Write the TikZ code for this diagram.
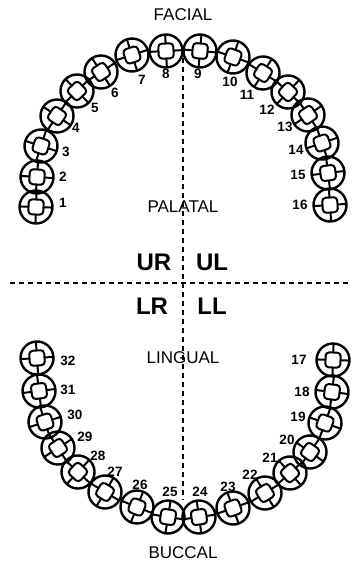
\documentclass[tikz,border=0pt]{standalone}
\usepackage{fontspec}
\setmainfont{Liberation Sans}
\usetikzlibrary{positioning}

\tikzset{tooth/.pic={
  \draw[line width=2.4pt] (0,0) circle (16.5);
  \draw[line width=2pt, rounded corners=3.5pt] (-7.5,-7.5) rectangle (7.5,7.5);
  \foreach \r in {0,90,180,270}
    \draw[line width=2pt, rotate=\r] (7.5,0) -- (16,0);
}}

\begin{document}
\begin{tikzpicture}[x=1pt,y=-1pt]
\useasboundingbox (0,0) rectangle (352,564);
\begin{scope}
\tikzstyle{side}=[font=\fontsize{17}{17}\selectfont, inner sep=0pt]
\tikzstyle{quad}=[font=\fontsize{24}{24}\selectfont\bfseries, inner sep=0pt]
\tikzstyle{num}=[font=\fontsize{13.5}{13.5}\selectfont\bfseries, inner sep=0pt]
\tikzstyle{midline}=[line width=1.2pt, dash pattern=on 5pt off 4pt]
% upper arch
\foreach \n/\x/\y/\a/\lx/\ly in {1/36/207/-2/63/203, 2/37/177/-4/63/177,
    3/41/146/-18/66/152, 4/57/116/56/76/128, 5/77/91/44/95/108,
    6/101/72/33/115/93, 7/132/55/18/142/80, 8/166/51/3/166/74,
    9/200/51/-5/198/74, 10/233/57/-19/230/82, 11/263/73/-32/247/95,
    12/288/92/-43/267/110, 13/308/115/34/285/127, 14/322/143/19/296/150,
    15/328/173/7/298/175, 16/330/205/4/300/205}
{
  \pic[rotate=\a] (t\n) at (\x,\y) {tooth};
  \node[num] (n\n) at (\lx,\ly) {\n};
}
% lower arch
\foreach \n/\x/\y/\a/\lx/\ly in {32/37/358/4/68/361, 31/39/391/7/68/390,
    30/45/422/18/75/415, 29/58/448/33/85/437, 28/78/472/-43/98/456,
    27/105/492/-31/115/472, 26/137/507/-22/140/485, 25/168/517/-9/170/492,
    24/199/517/8/200/492, 23/233/508/20/228/487, 22/265/493/32/250/475,
    21/290/473/42/270/458, 20/310/452/55/287/440, 19/325/423/70/298/417,
    18/332/392/83/302/392, 17/333/360/88/299/360}
{
  \pic[rotate=\a] (t\n) at (\x,\y) {tooth};
  \node[num] (n\n) at (\lx,\ly) {\n};
}
\node[side] (facial) at (183,15) {FACIAL};
\node[side] (palatal) at (183,207) {PALATAL};
\node[side] (lingual) at (183,358) {LINGUAL};
\node[side] (buccal) at (183,553) {BUCCAL};
\node[quad] (ur) at (154,262) {UR};
\node[quad] (ul) at (212,262) {UL};
\node[quad] (lr) at (152,306) {LR};
\node[quad] (ll) at (212,306) {LL};
% quadrant lines
\coordinate (mtop) at (183,58);
\coordinate (mbot) at (183,500);
\coordinate (hleft) at (10,283);
\coordinate (hright) at (352,283);
\draw[midline] (mtop) -- (mbot);
\draw[midline] (hleft) -- (hright);
\end{scope}
\end{tikzpicture}
\end{document}
